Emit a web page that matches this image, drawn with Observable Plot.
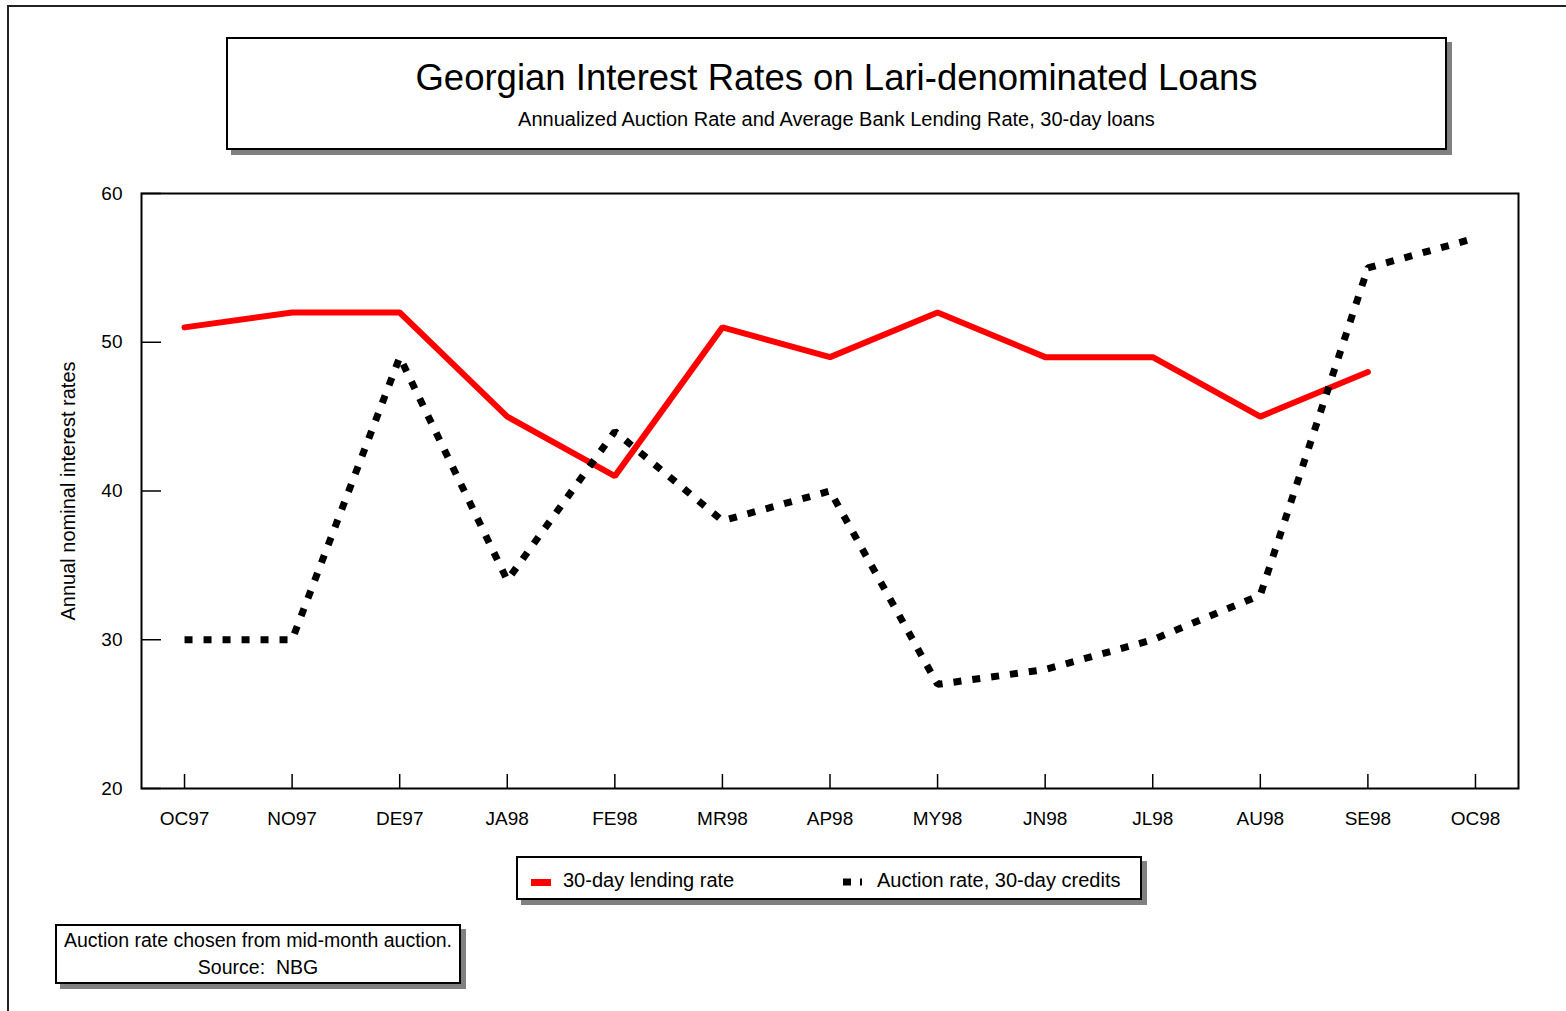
<!DOCTYPE html>
<html>
<head>
<meta charset="utf-8">
<script src="https://cdn.jsdelivr.net/npm/d3@7"></script>
<script src="https://cdn.jsdelivr.net/npm/@observablehq/plot@0.6"></script>
<style>
  html, body { margin: 0; padding: 0; background: #fff; }
  body { width: 1566px; height: 1011px; overflow: hidden; position: relative; font-family: "Liberation Sans", Arial, sans-serif; color: #000; }
  #chart { position: absolute; left: 0; top: 0; }
  .outer { position: absolute; left: 7px; top: 5px; width: 1700px; height: 1100px; border-left: 2px solid #222; border-top: 2px solid #222; box-sizing: border-box; }
  .box { position: absolute; background: #fff; border: 2px solid #000; box-sizing: border-box; box-shadow: 5px 5px 0 #808080; }
  .title { left: 226px; top: 37px; width: 1221px; height: 113px; text-align: center; }
  .title .t1 { position: absolute; left: 0; right: 0; top: 18px; font-size: 36.5px; line-height: 42px; }
  .title .t2 { position: absolute; left: 0; right: 0; top: 68px; font-size: 20px; line-height: 24px; }
  .legend { left: 516px; top: 856px; width: 626px; height: 44px; font-size: 20px; }
  .legend .item { position: absolute; top: 2px; height: 40px; line-height: 40px; white-space: nowrap; }
  .legend svg { position: absolute; }
  .note { left: 55px; top: 924px; width: 406px; height: 60px; font-size: 19.5px; text-align: center; line-height: 27px; padding-top: 1px; white-space: pre; }
</style>
</head>
<body>
<div class="outer"></div>
<div id="chart"></div>
<div class="box title">
  <div class="t1" id="t1"></div>
  <div class="t2" id="t2"></div>
</div>
<div class="box legend" id="legend"></div>
<div class="box note" id="note"></div>
<script>
// ---- data ----
const months = ["OC97","NO97","DE97","JA98","FE98","MR98","AP98","MY98","JN98","JL98","AU98","SE98","OC98"];
const lendingRate = [51, 52, 52, 45, 41, 51, 49, 52, 49, 49, 45, 48, null];
const auctionRate = [30, 30, 49, 34, 44, 38, 40, 27, 28, 30, 33, 55, 57];
const yTicks = [20, 30, 40, 50, 60];
const seriesNames = ["30-day lending rate", "Auction rate, 30-day credits"];
const titleText = "Georgian Interest Rates on Lari-denominated Loans";
const subtitleText = "Annualized Auction Rate and Average Bank Lending Rate, 30-day loans";
const yLabel = "Annual nominal interest rates";
const noteLines = ["Auction rate chosen from mid-month auction.", "Source:  NBG"];

const rows = months.map((m, i) => ({month: m, lending: lendingRate[i], auction: auctionRate[i]}));

const W = 1566, H = 1011;
const mL = 141, mR = 48, mT = 193, mB = 223;
const frameW = W - mL - mR, frameH = H - mT - mB;

const chart = Plot.plot({
  width: W,
  height: H,
  marginLeft: mL,
  marginRight: mR,
  marginTop: mT,
  marginBottom: mB,
  style: {fontFamily: "'Liberation Sans', Arial, sans-serif", fontSize: "19px", color: "#000", background: "transparent", overflow: "visible"},
  x: {type: "point", domain: months, padding: 0.4, round: false},
  y: {domain: [20, 60]},
  marks: [
    Plot.axisX({tickSize: 0, tickPadding: 23, label: null, fontSize: 19}),
    Plot.axisY({ticks: yTicks, tickSize: 0, tickPadding: 19, label: null, fontSize: 19}),
    Plot.tickX(months, {x: d => d, insetTop: frameH - 14, stroke: "#000", strokeWidth: 1.5}),
    Plot.tickY(yTicks, {y: d => d, insetRight: frameW - 20, stroke: "#000", strokeWidth: 1.5}),
    Plot.text([yLabel], {frameAnchor: "left", dx: -73, rotate: -90, textAnchor: "middle", fontSize: 20, fill: "#000", text: d => d}),
    Plot.line(rows, {x: "month", y: "lending", stroke: "#ff0000", strokeWidth: 6, strokeLinejoin: "miter"}),
    Plot.line(rows, {x: "month", y: "auction", stroke: "#000", strokeWidth: 7, strokeDasharray: "8,11", strokeLinecap: "butt", strokeLinejoin: "miter"}),
    Plot.frame({stroke: "#000", strokeWidth: 2})
  ]
});
document.getElementById("chart").appendChild(chart);

document.getElementById("t1").textContent = titleText;
document.getElementById("t2").textContent = subtitleText;

const lg = document.getElementById("legend");
lg.innerHTML = `
  <svg style="left:13px;top:21px" width="22" height="8"><rect x="0" y="0" width="20" height="7" fill="#ff0000"></rect></svg>
  <div class="item" style="left:45px">${seriesNames[0]}</div>
  <svg style="left:325px;top:19px" width="22" height="10"><line x1="0" y1="5" x2="19" y2="5" stroke="#000" stroke-width="7" stroke-dasharray="8,9"></line></svg>
  <div class="item" style="left:359px">${seriesNames[1]}</div>`;

document.getElementById("note").innerHTML = noteLines.map(l => `<div>${l}</div>`).join("");
</script>
</body>
</html>
